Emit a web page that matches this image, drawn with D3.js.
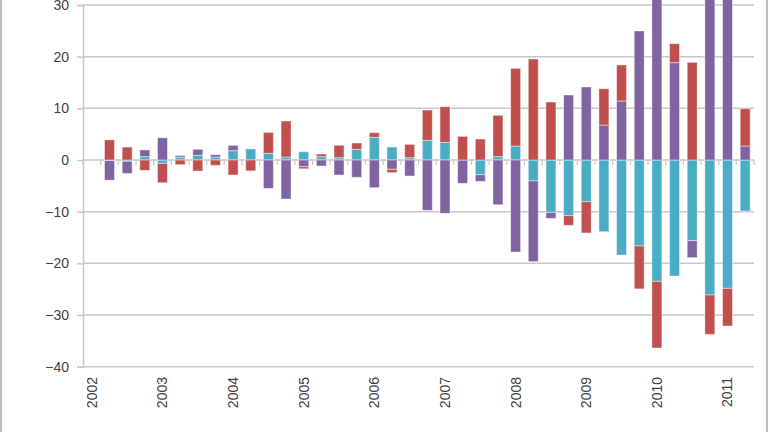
<!DOCTYPE html>
<html>
<head>
<meta charset="utf-8">
<script src="https://cdn.jsdelivr.net/npm/d3@7"></script>
<style>
  html, body { margin: 0; padding: 0; background: #fff; }
  svg { display: block; font-family: "Liberation Sans", Arial, sans-serif; }
</style>
</head>
<body>
<svg id="chart" width="768" height="432"></svg>
<script>
// ---- data ----
const quarters = [];
const years = [2002, 2003, 2004, 2005, 2006, 2007, 2008, 2009, 2010, 2011];
years.forEach(y => ["Q1", "Q2", "Q3", "Q4"].forEach(q => quarters.push(y + q)));
const categories = quarters.slice(0, 38);
const yearLabels = ["2002", "2003", "2004", "2005", "2006", "2007", "2008", "2009", "2010", "2011"];
const yTicks = [-40, -30, -20, -10, 0, 10, 20, 30];

const tealSeries = [0, -0.1, -0.25, 0.65, -0.65, 0.55, 0.9, 0.58, 1.8, 2.15,
  1.3, 0.58, 1.6, 0.65, 0.45, 2.06, 4.39, 2.52, 0.45, 3.8,
  3.42, 0, -2.84, 0.65, 2.71, -4.06, -10.13, -10.77, -8.06, -13.87,
  -18.39, -16.64, -23.48, -22.45, -15.6, -26.13, -24.84, -9.87];
const purpleSeries = [0, -3.8, -2.35, 1.3, 4.3, 0.32, 1.17, 0.45, 1.04, 0,
  -5.5, -7.55, -1.3, -1.16, -2.9, -3.35, -5.35, -1.8, -3.1, -9.74,
  -10.32, -4.52, -1.29, -8.65, -17.8, -15.6, -1.16, 12.58, 14.13, 6.77,
  11.42, 24.97, 36.4, 18.84, -3.29, 33.7, 32.1, 2.71];
const redSeries = [0, 3.9, 2.5, -2.0, -3.75, -0.9, -2.13, -1.03, -2.9, -2.1,
  4.05, 6.97, -0.4, 0.5, 2.4, 1.23, 0.9, -0.65, 2.58, 5.87,
  6.9, 4.58, 4.06, 8.0, 15.03, 19.55, 11.23, -1.87, -6.06, 7.03,
  6.97, -8.3, -12.9, 3.68, 18.9, -7.61, -7.29, 7.23];

const keys = ["teal", "purple", "red"];
const colors = { teal: "#4BACC6", purple: "#8064A2", red: "#C0504D" };

const rows = categories.map((c, i) => ({
  cat: c, teal: tealSeries[i], purple: purpleSeries[i], red: redSeries[i]
}));

// ---- layout ----
const svg = d3.select("#chart");
const left = 83, right = 754;
const x = d3.scaleBand().domain(categories).range([left, right]).paddingInner(0.434).paddingOuter(0.217);
const y = d3.scaleLinear().domain([-40, 30]).range([366.7, 5]);
const grid = "#c8c8c8";
const textColor = "#404040";

// frame lines
svg.append("line").attr("x1", 1).attr("x2", 1).attr("y1", 0).attr("y2", 432)
  .attr("stroke", "#a6a6a6").attr("stroke-width", 1.5);
svg.append("line").attr("x1", 767).attr("x2", 767).attr("y1", 0).attr("y2", 432)
  .attr("stroke", "#a6a6a6").attr("stroke-width", 1.5);

// y axis with gridlines
const yAxis = svg.append("g").attr("transform", `translate(${left},0)`)
  .call(d3.axisLeft(y).tickValues(yTicks).tickSize(6).tickPadding(8).tickFormat(d3.format("d")));
yAxis.select(".domain").attr("stroke", grid).attr("stroke-width", 1.5);
yAxis.selectAll(".tick line").attr("stroke", grid).attr("stroke-width", 1.5);
yAxis.selectAll(".tick text").attr("fill", textColor).style("font-size", "14px")
  .style("font-family", '"Liberation Sans", Arial, sans-serif');

svg.append("g").selectAll("line").data(yTicks).join("line")
  .attr("x1", left).attr("x2", right)
  .attr("y1", d => y(d)).attr("y2", d => y(d))
  .attr("stroke", grid).attr("stroke-width", 1.5);

// stacked bars
const stack = d3.stack().keys(keys).offset(d3.stackOffsetDiverging);
const layers = stack(rows);
svg.append("g").selectAll("g").data(layers).join("g")
  .attr("fill", d => colors[d.key])
  .selectAll("rect").data(d => d).join("rect")
  .attr("x", d => x(d.data.cat))
  .attr("width", x.bandwidth())
  .attr("y", d => y(Math.max(d[0], d[1])))
  .attr("height", d => Math.abs(y(d[0]) - y(d[1])))
  .attr("stroke", "rgba(255,255,255,0.45)")
  .attr("stroke-width", 1);

// category boundary ticks on zero line
const half = (x.step() - x.bandwidth()) / 2;
const bounds = categories.map(c => x(c) - half).concat([x(categories[categories.length - 1]) + x.bandwidth() + half]);
svg.append("g").selectAll("line").data(bounds).join("line")
  .attr("x1", d => d).attr("x2", d => d)
  .attr("y1", y(0)).attr("y2", y(0) + 5)
  .attr("stroke", grid).attr("stroke-width", 1.2);

// year labels (rotated) at bottom
svg.append("g").selectAll("text").data(yearLabels).join("text")
  .attr("transform", (d, i) => `translate(${x(categories[i * 4]) + x.bandwidth() / 2},377) rotate(-90)`)
  .attr("dy", "0.35em")
  .attr("text-anchor", "end")
  .attr("fill", textColor)
  .style("font-size", "14px")
  .text(d => d);
</script>
</body>
</html>
